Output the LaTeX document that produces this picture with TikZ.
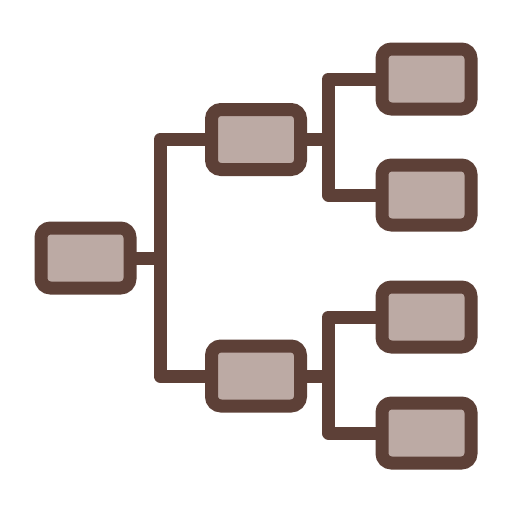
\documentclass[tikz,border=0pt]{standalone}
\usetikzlibrary{backgrounds}
\definecolor{edgebrown}{HTML}{5D4037}
\definecolor{fillbrown}{HTML}{BCAAA4}
\begin{document}
\begin{tikzpicture}[x=1pt,y=-1pt,
  tbox/.style={draw=edgebrown,fill=fillbrown,line width=13pt,rounded corners=9.5pt,
    minimum width=89pt,minimum height=60pt,inner sep=0pt,outer sep=0pt},
  conn/.style={draw=edgebrown,line width=13pt,line join=round}]
\useasboundingbox (0,0) rectangle (512,512);
\node[tbox] (root) at (85.5,258) {};
\node[tbox] (m1) at (256,139.5) {};
\node[tbox] (m2) at (256,376) {};
\node[tbox] (r1) at (426.5,79) {};
\node[tbox] (r2) at (426.5,195) {};
\node[tbox] (r3) at (426.5,317) {};
\node[tbox] (r4) at (426.5,433) {};
\coordinate (j0) at (160,258);
\coordinate (j1) at (328.5,139.5);
\coordinate (j2) at (328.5,376);
\begin{scope}[on background layer]
\fill[white] (0,0) rectangle (512,512);
\draw[conn] (root.east) -- (j0);
\draw[conn] (m1.west) -| (j0) |- (m2.west);
\draw[conn] (m1.east) -- (j1);
\draw[conn] (r1.west) -| (j1) |- (r2.west);
\draw[conn] (m2.east) -- (j2);
\draw[conn] (r3.west) -| (j2) |- (r4.west);
\end{scope}
\end{tikzpicture}
\end{document}
